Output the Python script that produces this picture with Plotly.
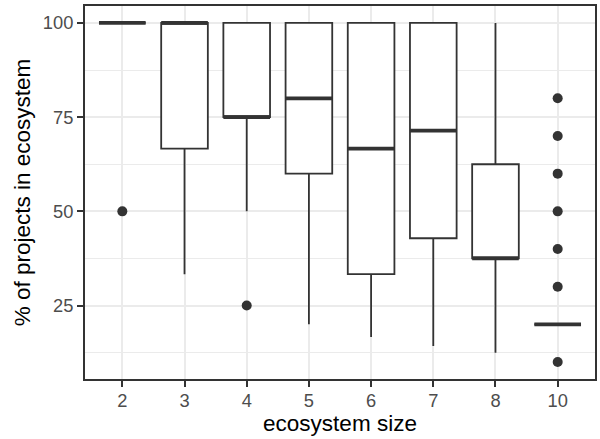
import plotly.graph_objects as go

categories = ["2", "3", "4", "5", "6", "7", "8", "10"]
q1 = [100, 66.67, 75, 60, 33.33, 42.86, 37.5, 20]
median = [100, 100, 75, 80, 66.67, 71.43, 37.5, 20]
q3 = [100, 100, 100, 100, 100, 100, 62.5, 20]
lower = [100, 33.33, 50, 20, 16.67, 14.29, 12.5, 20]
upper = [100, 100, 100, 100, 100, 100, 100, 20]
outlier_cat = ["2", "4", "10", "10", "10", "10", "10", "10", "10"]
outlier_val = [50, 25, 80, 70, 60, 50, 40, 30, 10]

pos = list(range(len(categories)))
idx = {c: i for i, c in enumerate(categories)}
BW = 0.75
DARK = "#333333"
FONT = "Liberation Sans, Arial, Helvetica, sans-serif"
TICKFONT = dict(size=18.3, color="#4D4D4D", family=FONT)
TITLEFONT = dict(size=22.5, color="black", family=FONT)

fig = go.Figure()
fig.add_trace(go.Box(
    x=pos, q1=q1, median=median, q3=q3, lowerfence=lower, upperfence=upper,
    boxpoints=False, width=BW, fillcolor="white",
    line=dict(color=DARK, width=1.8), whiskerwidth=0, showlegend=False,
    hoverinfo="skip",
))

mx, my = [], []
for i, m in zip(pos, median):
    mx += [i - BW / 2, i + BW / 2, None]
    my += [m, m, None]
fig.add_trace(go.Scatter(x=mx, y=my, mode="lines",
                         line=dict(color=DARK, width=3.8), showlegend=False,
                         hoverinfo="skip"))

fig.add_trace(go.Scatter(
    x=[idx[c] for c in outlier_cat], y=outlier_val, mode="markers",
    marker=dict(color=DARK, size=10), showlegend=False, hoverinfo="skip"))

fig.update_layout(
    width=600, height=439,
    margin=dict(l=85, r=5, t=6, b=60),
    paper_bgcolor="white", plot_bgcolor="white",
    font=dict(family=FONT, color="#4D4D4D", size=18),
)
fig.update_xaxes(
    range=[-0.6, len(categories) - 0.4], tickmode="array", tickvals=pos,
    ticktext=categories, showgrid=True, gridcolor="#EBEBEB", gridwidth=2,
    zeroline=False, showline=True, mirror=True, linecolor=DARK, linewidth=2,
    ticks="outside", ticklen=6, tickwidth=2, tickcolor=DARK,
    tickfont=TICKFONT, automargin=False, ticklabelstandoff=-2,
    title=dict(text="ecosystem size", font=TITLEFONT, standoff=0),
)
fig.update_yaxes(
    range=[5.5, 104.5], tickmode="array", tickvals=[25, 50, 75, 100],
    showgrid=True, gridcolor="#EBEBEB", gridwidth=2,
    minor=dict(tickmode="array", tickvals=[12.5, 37.5, 62.5, 87.5], showgrid=True,
               gridcolor="#EBEBEB", gridwidth=1, ticks=""),
    zeroline=False, showline=True, mirror=True, linecolor=DARK, linewidth=2,
    ticks="outside", ticklen=6, tickwidth=2, tickcolor=DARK,
    tickfont=TICKFONT, automargin=False,
    title=dict(text="% of projects in ecosystem", font=TITLEFONT, standoff=6),
)

fig.write_html("out.html", config={"displayModeBar": False},
               post_script="document.body.style.margin='0';")
